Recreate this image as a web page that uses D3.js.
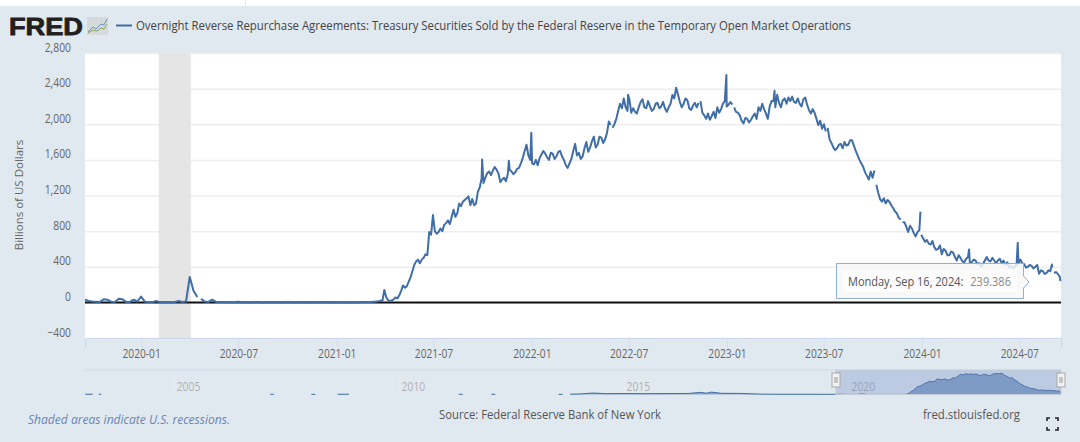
<!DOCTYPE html>
<html>
<head>
<meta charset="utf-8">
<script src="https://cdn.jsdelivr.net/npm/d3@7"></script>
<style>
  html, body { margin: 0; padding: 0; background: #fff; overflow: hidden; }
  text { font-family: "Open Sans", sans-serif; }
</style>
</head>
<body>
<script>
// Readings in billions of dollars: weekly up to 2020, twice a week after that
const values2019 = [30,15,10,8,5,35,30,8,5,40,35,5,5,30,10];
const values2020 = [65,8,3,3,15,3,3,3,2,5,15,5,10,285,130,60,40,10,5,30,5,3,3,4,2,3,6,2,3,2,4,3,2,2,5,2,3,2,2,3,4,2,3,2,3,2,2,4,3,2,3,2];
const values2021 = [2,1,1,1,1,1,1,2,3,2,2,2,2,2,3,4,5,3,3,5,8,6,10,14,20,15,140,60,25,15,20,35,55,45,80,130,190,165,180,230,280,350,420,460,480,440,480,500,540,530,790,760,980,800,770,790,830,800,870,890,920,880,960,1040,960,1000,1110,1080,1130,1150,1170,1190,1090,1160,1090,1110,1240,1290,1390,1340,1400,1450,1470,1430,1480,1520,1490,1450,1350,1380,1400,1360,1440,1490,1470,1440,1460,1500,1510,1560,1620,1700,1770,1650,1600,1560];
const values2022 = [1550,1600,1540,1620,1660,1700,1670,1630,1600,1680,1670,1610,1640,1690,1700,1640,1600,1540,1510,1560,1610,1700,1780,1650,1680,1610,1640,1730,1800,1690,1740,1810,1860,1740,1770,1860,1850,1790,1830,1900,2030,1990,1960,2000,2060,2150,2230,2180,2290,2190,2150,2280,2130,2180,2140,2120,2190,2250,2280,2190,2180,2260,2200,2150,2170,2230,2240,2180,2200,2250,2180,2140,2190,2230,2330,2290,2410,2330,2250,2190,2230,2290,2270,2180,2160,2210,2240,2190,2240,2260,2130,2100,2060,2120,2050,2090,2140,2070,2190,2130,2170,2230,2260,2200];
const values2023 = [2220,2250,2220,2190,2140,2130,2100,2040,2010,2070,2060,2020,2050,2090,2120,2060,2190,2150,2230,2170,2120,2060,2200,2260,2260,2190,2330,2240,2190,2270,2290,2230,2300,2260,2310,2250,2240,2290,2230,2200,2280,2300,2220,2160,2120,2170,2130,2060,1990,2040,1950,2000,1920,1960,1830,1790,1740,1710,1730,1770,1780,1730,1800,1760,1770,1820,1820,1760,1700,1650,1600,1560,1520,1460,1420,1380,1470,1400,1480,1320,1230,1160,1130,1170,1110,1150,1130,1090,1060,1020,1000,950,930,900,900,850,790,860,830,780,740,790,810,760];
const values2024 = [720,680,700,660,650,690,620,590,600,640,540,600,580,530,530,570,560,510,470,530,500,460,450,490,510,440,450,480,470,430,440,400,430,470,510,470,460,500,470,440,470,490,440,470,420,450,390,410,380,400,430,440,480,440,430,390,400,420,410,380,400,420,320,360,350,320,330,360,350,390,330,340,320,290];

// Quarter-end spikes and breaks in the line (null = no data that day)
const extraDates = ["2020-04-18","2021-09-30","2021-11-19","2021-12-31","2022-05-29","2022-06-30","2022-11-12","2022-12-31","2023-01-14","2023-03-31","2023-07-08","2023-10-07","2023-11-25","2023-12-29","2023-12-30","2024-03-29","2024-06-28","2024-08-31","2024-09-02","2024-09-16"];
const extraValues = [null,1604,1590,1905,null,2330,null,2554,null,2375,null,null,null,1019,null,595,670,425,null,239.386];

// Older history, only seen in the navigator
const historyDates = ["2003-01-10","2003-03-10","2003-03-20","2003-05-01","2003-05-20","2003-06-01","2007-02-20","2007-03-20","2007-04-01","2008-01-20","2008-02-20","2008-03-01","2008-08-20","2008-11-20","2008-12-01","2011-05-01","2011-06-01","2011-06-10","2012-01-20","2012-02-20","2012-03-01","2013-07-20","2013-08-20","2013-09-01","2013-10-20","2014-01-15","2014-04-20","2014-08-01","2015-01-01","2015-07-01","2016-01-01","2016-06-01","2016-09-10","2016-11-01","2016-12-10","2017-03-01","2017-08-01","2018-01-15","2018-07-01","2019-01-15","2019-07-01"];
const historyValues = [30,30,null,20,20,null,20,20,null,15,15,null,30,30,null,20,20,null,20,20,null,15,15,null,30,60,160,90,100,90,100,110,230,140,260,130,120,40,25,30,20];

const monthTicks = ["2020-01-01","2020-07-01","2021-01-01","2021-07-01","2022-01-01","2022-07-01","2023-01-01","2023-07-01","2024-01-01","2024-07-01"];
const valueTicks = [-400,0,400,800,1200,1600,2000,2400,2800];
const navigatorYears = ["2005-01-01","2010-01-01","2015-01-01","2020-01-01"];
const recession = ["2020-02-03","2020-04-03"];

const seriesTitle = "Overnight Reverse Repurchase Agreements: Treasury Securities Sold by the Federal Reserve in the Temporary Open Market Operations";
const tooltipDate = "Monday, Sep 16, 2024:";
const tooltipValue = "239.386";

const width = 1080;
const height = 442;
const plot = { left: 85, right: 1061, top: 53, bottom: 338 };
const nav = { top: 370, bottom: 394.5, handleLeft: 836 };
const lineColor = "#406ea6";
const pageColor = "#e1e9f0";

const parse = d3.utcParse("%Y-%m-%d");

// The reference text is a little narrower than Open Sans sets it
function squeeze(selection, factor) {
  selection.each(function () {
    d3.select(this)
      .attr("textLength", this.getComputedTextLength() * factor)
      .attr("lengthAdjust", "spacingAndGlyphs");
  });
}

// Build the series: dated readings first, then merge the extras
const firstDate = parse("2019-09-18");
const firstTwiceWeekly = parse("2020-12-30");
const weeklyPoints = [...values2019, ...values2020].map((v, i) => ({ date: d3.utcDay.offset(firstDate, 7 * i), value: v }));
const twiceWeeklyPoints = [...values2021, ...values2022, ...values2023, ...values2024].map((v, i) => ({ date: d3.utcHour.offset(firstTwiceWeekly, 84 * i), value: v }));
const basePoints = weeklyPoints.concat(twiceWeeklyPoints);

const series = basePoints.concat(extraDates.map((d, i) => ({ date: parse(d), value: extraValues[i] })));
series.sort((a, b) => a.date - b.date);

// The navigator shows a thinned, smoother copy of the same readings
const history = historyDates.map((d, i) => ({ date: parse(d), value: historyValues[i] }));
const navSeries = history.concat(basePoints.filter((d, i) => i % 6 === 0), { date: parse("2024-09-16"), value: 239.386 });

const x = d3.scaleUtc().domain([firstDate, parse("2024-09-17")]).range([plot.left, plot.right]);
const y = d3.scaleLinear().domain([-400, 2800]).range([plot.bottom, plot.top]);
const navX = d3.scaleUtc().domain([parse("2003-01-08"), parse("2024-09-17")]).range([plot.left, plot.right]);
const navY = d3.scaleLinear().domain([0, 2600]).range([nav.bottom, nav.top + 0.5]);

const svg = d3.select("body").append("svg")
  .attr("width", width)
  .attr("height", height)
  .style("display", "block");

// Page background and the sliver of white page above it
svg.append("rect").attr("y", 6).attr("width", width).attr("height", height - 6).attr("fill", pageColor);
svg.append("line").attr("x1", 245.5).attr("x2", 245.5).attr("y1", 0).attr("y2", 6).attr("stroke", "#e8e8e8");
svg.append("rect")
  .attr("x", plot.left).attr("y", plot.top)
  .attr("width", plot.right - plot.left).attr("height", plot.bottom - plot.top)
  .attr("fill", "#fff");

// Header: logo, legend swatch, title
svg.append("text")
  .attr("x", 9).attr("y", 35)
  .attr("textLength", 74).attr("lengthAdjust", "spacingAndGlyphs")
  .style("font-family", "'Liberation Sans', sans-serif")
  .style("font-size", "24px").style("font-weight", 700)
  .attr("fill", "#231f20").attr("stroke", "#231f20").attr("stroke-width", 0.8)
  .text("FRED");
const logo = svg.append("g").attr("transform", "translate(87,17)");
logo.append("rect").attr("width", 21).attr("height", 18).attr("fill", "#d5dadc");
logo.append("path").attr("d", "M1 15 L6 10 L9 12 L14 7 L17 8 L20 2").attr("fill", "none").attr("stroke", "#6d94b8").attr("stroke-width", 1);
logo.append("path").attr("d", "M1 16 L6 13 L10 14 L14 11 L17 12 L20 7").attr("fill", "none").attr("stroke", "#86a860").attr("stroke-width", 1);

svg.append("line").attr("x1", 116).attr("x2", 132).attr("y1", 25.5).attr("y2", 25.5).attr("stroke", lineColor).attr("stroke-width", 2);
svg.append("text")
  .attr("x", 136).attr("y", 30)
  .attr("textLength", 715).attr("lengthAdjust", "spacingAndGlyphs")
  .style("font-size", "12px").attr("fill", "#444")
  .text(seriesTitle);

// Y axis carries the gridlines
const yAxis = svg.append("g")
  .attr("transform", `translate(${plot.left},0)`)
  .call(d3.axisLeft(y).tickValues(valueTicks).tickFormat(d3.format(",")).tickSize(-(plot.right - plot.left)));
yAxis.select(".domain").remove();
yAxis.selectAll("line").attr("stroke", "#eeeeee").attr("stroke-width", 1.5);
yAxis.selectAll("text")
  .attr("x", -14).attr("dy", "-2px")
  .style("font-size", "12px").style("font-family", "'Open Sans', sans-serif").attr("fill", "#666")
  .call(squeeze, 0.86);

svg.append("text")
  .attr("transform", "translate(23,195) rotate(-90)")
  .attr("text-anchor", "middle")
  .style("font-size", "11.5px").attr("fill", "#666")
  .text("Billions of US Dollars");

// Recession band
svg.append("rect")
  .attr("x", x(parse(recession[0]))).attr("y", plot.top)
  .attr("width", x(parse(recession[1])) - x(parse(recession[0])))
  .attr("height", plot.bottom - plot.top)
  .attr("fill", "#e5e5e5");

// X axis
const xAxis = svg.append("g")
  .attr("transform", `translate(0,${plot.bottom})`)
  .call(d3.axisBottom(x).tickValues(monthTicks.map(parse)).tickFormat(d3.utcFormat("%Y-%m")).tickSize(10));
xAxis.select(".domain").attr("stroke", "#ccd6eb");
xAxis.selectAll("line").attr("stroke", "#d3deee");
xAxis.selectAll("text")
  .attr("y", 20).attr("dy", 0)
  .style("font-size", "12px").style("font-family", "'Open Sans', sans-serif").attr("fill", "#666")
  .call(squeeze, 0.85);

// Zero line
svg.append("line")
  .attr("x1", plot.left).attr("x2", plot.right)
  .attr("y1", y(0)).attr("y2", y(0))
  .attr("stroke", "#111").attr("stroke-width", 2);

// Main series
const line = d3.line()
  .defined(d => d.value !== null)
  .x(d => x(d.date))
  .y(d => y(d.value));
svg.append("path")
  .datum(series)
  .attr("d", line)
  .attr("fill", "none")
  .attr("stroke", lineColor)
  .attr("stroke-width", 2)
  .attr("stroke-linejoin", "round");

// Tooltip, its text narrowed with a transform so date and value stay apart
const tip = svg.append("g");
tip.append("path")
  .attr("d", "M836.5 263.5 H1023.5 V276 L1029 282 L1023.5 288 V298.5 H836.5 Z")
  .attr("fill", "#f7f7f7").attr("fill-opacity", 0.85)
  .attr("stroke", "#8fb0d4").attr("stroke-width", 1);
tip.append("rect").attr("x", 843).attr("y", 270).attr("width", 174).attr("height", 22).attr("fill", "#fff").attr("fill-opacity", 0.6);
const tipText = tip.append("g").attr("transform", "translate(848,286) scale(0.88,1)");
tipText.append("text").style("font-size", "12.5px").attr("fill", "#555").text(tooltipDate);
tipText.append("text").attr("x", 139).style("font-size", "12.5px").attr("fill", "#8a8a8a").text(tooltipValue);

// Navigator
const navArea = d3.area()
  .defined(d => d.value !== null)
  .x(d => navX(d.date))
  .y0(nav.bottom)
  .y1(d => navY(d.value));
const navLine = d3.line()
  .defined(d => d.value !== null)
  .x(d => navX(d.date))
  .y(d => navY(d.value));

const navAxis = svg.append("g")
  .attr("transform", `translate(0,${nav.top})`)
  .call(d3.axisBottom(navX).tickValues(navigatorYears.map(parse)).tickFormat(d3.utcFormat("%Y")).tickSize(nav.bottom - nav.top));
navAxis.select(".domain").remove();
navAxis.selectAll("line").attr("stroke", "#e6ebf1");
navAxis.selectAll("text")
  .attr("x", 2).attr("y", 21).attr("dy", 0).attr("text-anchor", "start")
  .style("font-size", "12px").style("font-family", "'Open Sans', sans-serif").attr("fill", "#b0b0b0")
  .call(squeeze, 0.86);

svg.append("path").datum(navSeries).attr("d", navArea).attr("fill", lineColor).attr("fill-opacity", 0.55);
svg.append("path").datum(navSeries).attr("d", navLine).attr("fill", "none").attr("stroke", lineColor).attr("stroke-width", 1);

svg.append("line")
  .attr("x1", plot.left).attr("x2", nav.handleLeft)
  .attr("y1", nav.top).attr("y2", nav.top)
  .attr("stroke", "#cfd8e1");
svg.append("rect")
  .attr("x", nav.handleLeft).attr("y", nav.top)
  .attr("width", plot.right - nav.handleLeft).attr("height", nav.bottom - nav.top)
  .attr("fill", "#6685c2").attr("fill-opacity", 0.3)
  .attr("stroke", "#c3cbd6");

[nav.handleLeft, plot.right].forEach(hx => {
  const h = svg.append("g").attr("transform", `translate(${hx - 4},373)`);
  h.append("rect").attr("width", 8).attr("height", 14).attr("fill", "#f2f2f2").attr("stroke", "#a8a8a8");
  h.append("line").attr("x1", 3).attr("x2", 3).attr("y1", 4).attr("y2", 10).attr("stroke", "#999");
  h.append("line").attr("x1", 5).attr("x2", 5).attr("y1", 4).attr("y2", 10).attr("stroke", "#999");
});

// Footer
svg.append("text")
  .attr("x", 28).attr("y", 424)
  .attr("textLength", 202).attr("lengthAdjust", "spacingAndGlyphs")
  .style("font-size", "12px").style("font-style", "italic").attr("fill", "#6a85b5")
  .text("Shaded areas indicate U.S. recessions.");
svg.append("text")
  .attr("x", 439).attr("y", 419)
  .attr("textLength", 222).attr("lengthAdjust", "spacingAndGlyphs")
  .style("font-size", "12px").attr("fill", "#555")
  .text("Source: Federal Reserve Bank of New York");
svg.append("text")
  .attr("x", 923).attr("y", 419)
  .attr("textLength", 97).attr("lengthAdjust", "spacingAndGlyphs")
  .style("font-size", "12px").attr("fill", "#555")
  .text("fred.stlouisfed.org");
svg.append("path")
  .attr("d", "M1047 421 V418 H1050 M1055 418 H1058 V421 M1058 427 V430 H1055 M1050 430 H1047 V427")
  .attr("fill", "none").attr("stroke", "#222").attr("stroke-width", 1.6);
</script>
</body>
</html>
